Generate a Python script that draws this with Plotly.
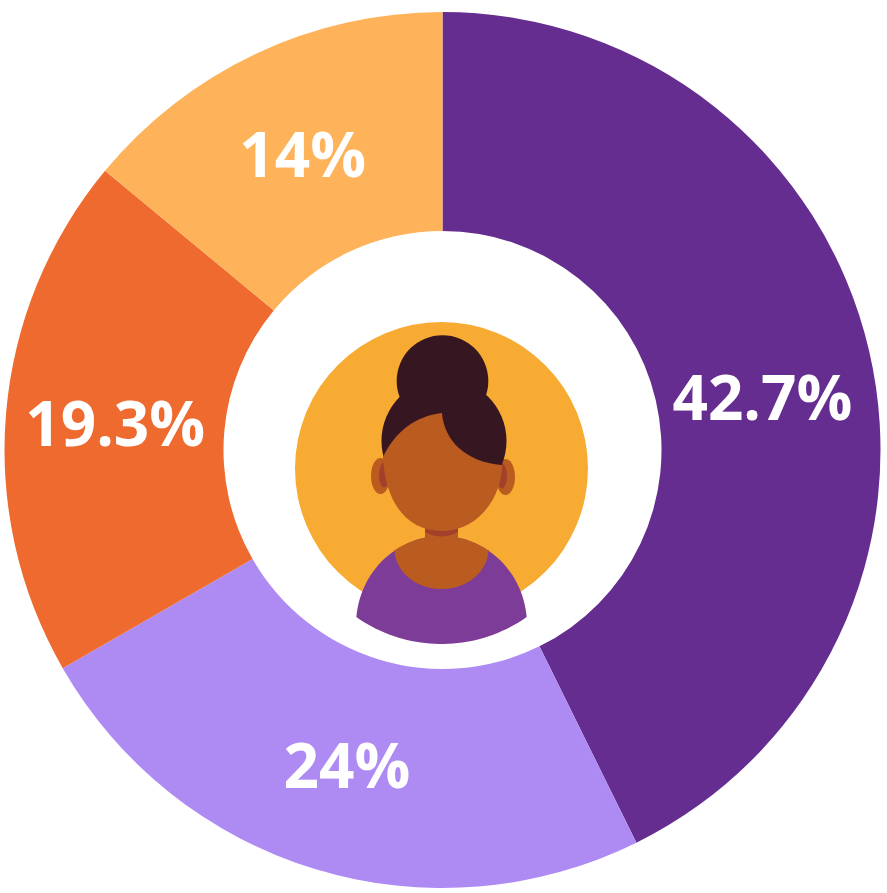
import numpy as np
import plotly.graph_objects as go

# ---- data ----
labels = ["Group A", "Group B", "Group C", "Group D"]
values = [42.7, 24.0, 19.3, 14.0]
text_labels = ["42.7%", "24%", "19.3%", "14%"]
colors = ["#652D90", "#AD8BF3", "#EF6A2F", "#FEB25A"]

W, H = 887, 893


def P(x, y):
    return f"{x / W:.5f},{1 - y / H:.5f}"


def poly(pts):
    return "M " + " L ".join(P(x, y) for x, y in pts) + " Z"


def bez(start, segs):
    s = "M " + P(*start)
    for c1, c2, e in segs:
        s += " C " + P(*c1) + " " + P(*c2) + " " + P(*e)
    return s + " Z"


def circle(cx, cy, rx, ry, color):
    return dict(type="circle", xref="paper", yref="paper",
                x0=(cx - rx) / W, x1=(cx + rx) / W,
                y0=1 - (cy + ry) / H, y1=1 - (cy - ry) / H,
                fillcolor=color, line=dict(width=0), layer="above")


def path(p, color):
    return dict(type="path", xref="paper", yref="paper", path=p,
                fillcolor=color, line=dict(width=0), layer="above")


YELLOW = "#F7AB33"
SHIRT = "#7D3C98"
SKIN = "#BA5C20"
HAIR = "#361621"
SHADE = "#A2402C"

shapes = []
# background disc
shapes.append(circle(441.5, 468.5, 146.5, 146.5, YELLOW))

# shirt dome
t1 = np.linspace(np.pi - 0.09, 0.09, 60)
top = [(441.5 + 85.5 * np.cos(t), 625 - 89 * np.sin(t)) for t in t1]
a = np.linspace(0.613, -0.613, 40)
bottom = [(441.5 + 148 * np.sin(v), 496 + 148 * np.cos(v)) for v in a]
shapes.append(path(poly(top + bottom), SHIRT))

# skin neckline
tn = np.linspace(0, np.pi, 40)
neck_low = [(441.5 + 47 * np.cos(t), 549 + 40 * np.sin(t)) for t in tn]
td = np.linspace(np.arccos((394 - 441.5) / 85.5), np.arccos((489 - 441.5) / 85.5), 30)
neck_top = [(441.5 + 85.5 * np.cos(t), 625 - 89 * np.sin(t)) for t in td]
shapes.append(path(poly(neck_low + neck_top), SKIN))

# neck
shapes.append(path(poly([(425, 512), (458, 512), (458, 545), (425, 545)]), SKIN))
shapes.append(path("M " + P(425, 515) + " L " + P(458, 515) + " L " + P(458, 532)
                   + " Q " + P(441.5, 541) + " " + P(425, 532) + " Z", SHADE))

# ears
shapes.append(circle(380.5, 476, 9.5, 18, SKIN))
shapes.append(circle(384, 475, 5, 12.5, SHADE))
shapes.append(circle(505.5, 477, 9.5, 18, SKIN))
shapes.append(circle(502, 476, 5, 12.5, SHADE))

# hair
shapes.append(circle(444, 441, 62.5, 62.5, HAIR))
shapes.append(circle(442.5, 381, 45.8, 45.8, HAIR))

# face
shapes.append(path(bez((383, 457), [
    ((395, 432), (415, 416), (442, 413)),
    ((444, 440), (465, 462), (502, 465)),
    ((502, 495), (480, 531), (442, 531)),
    ((405, 531), (385, 500), (383, 457)),
]), SKIN))

# the largest label sits a little lower in its slice in the reference:
# a small invisible first line nudges it down
spacer = "<span style='font-size:24px'>\u00a0</span><br>"
shown_text = [spacer + t if i == 0 else t for i, t in enumerate(text_labels)]

fig = go.Figure(go.Pie(
    labels=labels,
    values=values,
    text=shown_text,
    textinfo="text",
    textposition="inside",
    insidetextorientation="horizontal",
    hole=0.5,
    sort=False,
    direction="clockwise",
    rotation=0,
    marker=dict(colors=colors, line=dict(width=0)),
    textfont=dict(family="Open Sans", size=62, color="white", weight="bold"),
    domain=dict(x=[4.5 / W, 880.5 / W],
                y=[1 - 888 / H, 1 - 12 / H]),
    showlegend=False,
    hoverinfo="label+percent",
))

fig.update_layout(
    width=W, height=H,
    margin=dict(l=0, r=0, t=0, b=0),
    paper_bgcolor="white",
    plot_bgcolor="white",
    shapes=shapes,
    showlegend=False,
)

fig.write_html("out.html", config={"displayModeBar": False},
               post_script="document.body.style.margin='0px';")
